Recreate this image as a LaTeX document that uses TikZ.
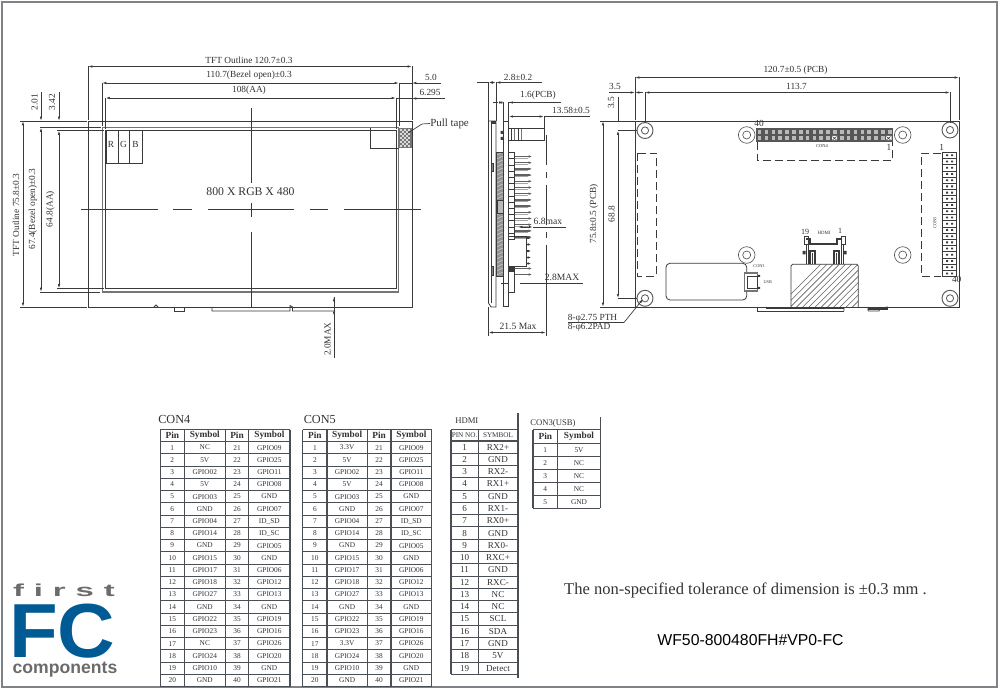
\documentclass[tikz,border=0pt]{standalone}
\usepackage{fontspec}
\setmainfont{Liberation Serif}
\newfontfamily\logofont{Liberation Sans}
\newfontfamily\logowide[LetterSpace=30]{Liberation Sans}
\usetikzlibrary{arrows.meta}
\definecolor{ink}{HTML}{3A3A3A}
\definecolor{txt}{HTML}{333333}
\definecolor{frameC}{HTML}{7F8388}
\definecolor{tabC}{HTML}{4A4E55}
\definecolor{fcblue}{HTML}{005B94}
\definecolor{fcgrey}{HTML}{6B6B6B}
\newcounter{lblc}
\newcommand{\lbl}[4][]{\stepcounter{lblc}\node[lab,#1] (lab\thelblc) at (#2,#3) {#4};}
\newcommand{\dimline}[4]{\draw[dim] (#1,#2) -- (#3,#4);}
\tikzset{
 lab/.style={inner sep=0pt,text=txt,font=\fontsize{7}{8}\selectfont},
 dim/.style={draw=ink,line width=0.55pt,{Latex[length=3.2pt,width=1.8pt]}-{Latex[length=3.2pt,width=1.8pt]}},
 ext/.style={draw=ink,line width=0.5pt},
 part/.style={draw=ink,line width=0.6pt},
 heavy/.style={draw=ink!70,line width=1.4pt},
 dashbox/.style={draw=ink,line width=0.6pt,dash pattern=on 6pt off 3pt},
 hole/.style={draw=ink!85,line width=0.5pt},
 tline/.style={draw=tabC,line width=0.8pt},
 thead/.style={inner sep=0pt,text=txt,font=\fontsize{7}{8}\bfseries\selectfont},
 tcell/.style={inner sep=0pt,text=txt,font=\fontsize{5.5}{6}\selectfont},
 hcell/.style={inner sep=0pt,text=txt,font=\fontsize{6.8}{7}\selectfont},
}
\newcommand{\pintable}[6]{%
 \foreach \r in {0,...,20}{\pgfmathsetmacro\yy{441.7+\r*12.25}\draw[tline] (#1,\yy) -- (#5,\yy);}
 \foreach \xx in {#1,#2,#3,#4,#5}{\draw[tline] (\xx,429.7) -- (\xx,686.7);}
 \draw[tline] (#1,429.7) -- (#5,429.7);
 \pgfmathsetmacro\ca{(#1+#2)/2}\pgfmathsetmacro\cb{(#2+#3)/2}\pgfmathsetmacro\cc{(#3+#4)/2}\pgfmathsetmacro\cd{(#4+#5)/2}
 \node[thead] at (\ca,435.7) {Pin};\node[thead] at (\cb,435.7) {Symbol};\node[thead] at (\cc,435.7) {Pin};\node[thead] at (\cd,435.7) {Symbol};
 \foreach \n/\s/\m/\t [count=\i from 0] in {#6}{
  \pgfmathsetmacro\yy{447.6+\i*12.25}
  \node[tcell] at (\ca,\yy) {\n};\node[tcell] at (\cb,\yy) {\s};\node[tcell] at (\cc,\yy) {\m};\node[tcell] at (\cd,\yy) {\t};
 }
}
\begin{document}
\begin{tikzpicture}[x=0.75pt,y=-0.75pt]
\useasboundingbox (0,0) rectangle (1000,695);
\fill[white] (0,0) rectangle (1000,695);
\draw[frameC,line width=1pt] (2,2) rectangle (997,687);

% ---------- front view ----------
\draw[part] (88,121) rectangle (412,307);
\draw[heavy] (102.5,127.5) rectangle (398.5,292);
\draw[part] (105,130) rectangle (396,288.5);
\draw[part] (106,130) rectangle (118,163);
\draw[part] (118,130) rectangle (129.5,163);
\draw[part] (129.5,130) rectangle (142.5,163);
\lbl{111}{144}{R}\lbl{123.5}{144}{G}\lbl{135.5}{144}{B}
\draw[part] (370,128) -- (370,148.5) -- (399,148.5);
\fill[ink!70] (399,128) rectangle (411.5,148.5);
\foreach \yy in {130,134,...,146}{\foreach \xx in {401,405,409}{\fill[white] (\xx,\yy) circle (1.1);}}
\foreach \yy in {132,136,...,144}{\foreach \xx in {403,407}{\fill[white] (\xx,\yy) circle (1.1);}}
\coordinate (tapeEnd) at (408,133);
\lbl[anchor=west]{430}{123.5}{\fontsize{8.2}{9}\selectfont Pull tape}
\draw[ext] (tapeEnd) -- (422,124) -- (lab\thelblc.west);
\lbl{250.5}{192}{\fontsize{8.8}{9}\selectfont 800 X RGB X 480}
\draw[part] (81,209.5) -- (158,209.5) (173,209.5) -- (192,209.5) (208,209.5) -- (294,209.5) (310,209.5) -- (328,209.5) (344,209.5) -- (421,209.5);
\draw[part] (251,108) -- (251,183) (251,203) -- (251,217) (251,232) -- (251,308);
\draw[part] (154,307) -- (156,305) -- (158,307);
\draw[part] (174,307) -- (174,311) -- (184,311) -- (184,307);
\draw[part] (212,307) -- (212,311) -- (290,311) -- (290,305.5) -- (292.5,307) -- (292.5,311) -- (335,311);
\lbl{249}{60}{TFT Outline 120.7±0.3}
\dimline{88}{66.5}{412}{66.5}
\draw[ext] (88,66.5) -- (88,120) (412,66.5) -- (412,120);
\lbl{249}{75.5}{110.7(Bezel open)±0.3}
\dimline{102}{83}{399}{83}
\draw[ext] (102,83) -- (102,126) (399,83) -- (399,126);
\lbl{249}{90.5}{108(AA)}
\dimline{105.5}{98}{396}{98}
\draw[ext] (105.5,98) -- (105.5,129) (396,98) -- (396,129);
\lbl{431}{77}{5.0}
\draw[ext,-{Latex[length=3.2pt,width=1.8pt]}] (441,83) -- (412,83);
\draw[ext] (399,83) -- (412,83);
\lbl{430}{92}{6.295}
\draw[ext,-{Latex[length=3.2pt,width=1.8pt]}] (445,98.5) -- (412,98.5);
\draw[ext] (396,98.5) -- (412,98.5);
\lbl[rotate=90]{34.5}{102}{2.01}
\lbl[rotate=90]{52}{102}{3.42}
\draw[ext,-{Latex[length=3.2pt,width=1.8pt]}] (41,92) -- (41,121);
\draw[ext,-{Latex[length=3.2pt,width=1.8pt]}] (59,92) -- (59,121);
\dimline{23}{121}{23}{307}
\draw[ext] (20,121) -- (87,121) (20,307) -- (87,307);
\dimline{41}{127.5}{41}{292}
\draw[ext] (40,127.5) -- (101,127.5) (40,292) -- (100,292);
\dimline{59}{130.5}{59}{288.5}
\draw[ext] (57,130.5) -- (104,130.5) (57,288.5) -- (104,288.5);
\lbl[rotate=90]{16}{215}{TFT Outline 75.8±0.3}
\lbl[rotate=90]{33}{209}{67.4(Bezel open)±0.3}
\lbl[rotate=90]{50.5}{209}{64.8(AA)}
\dimline{334}{297}{334}{316}
\draw[ext] (334,297) -- (334,358) (292,307) -- (338,307);
\lbl[rotate=90]{327.5}{339}{2.0MAX}

% ---------- side view ----------
\draw[part] (488.5,121) -- (488.5,303) -- (491,307) -- (496,307) -- (496,121) -- cycle;
\draw[part] (491,121) -- (491,303);
\fill[ink] (491,121) rectangle (496,124);
\draw[part] (503.5,121) rectangle (508.7,306.7);
\fill[ink!55] (496,152.7) rectangle (503.3,276.7);
\foreach \yy in {155,159,...,275}{\draw[white!75!ink,line width=0.4pt] (496.5,\yy) -- (503,\yy-3);}
\draw[part] (496,152.7) rectangle (503.3,276.7);
\draw[part,fill=white!65!ink] (497,200) rectangle (503,213);
\draw[part,fill=ink!60] (491,163) rectangle (493.5,171);
\draw[part,fill=ink!60] (491,266) rectangle (493.5,275);
\fill[ink] (500.5,131) rectangle (503.3,134) (500.5,137) rectangle (503.3,140);
\draw[part] (508.7,128.7) rectangle (544,140.7);
\draw[heavy] (514.5,129) -- (514.5,140.5) (521.5,129) -- (521.5,140.5);
\draw[part] (511.5,129) -- (511.5,140.5) (518.5,129) -- (518.5,140.5);
\foreach \i in {0,...,13}{
 \pgfmathsetmacro\yy{152.7+\i*6.2}
 \draw[part,line width=0.8pt] (508.7,\yy) rectangle (514.5,\yy+6.2);
 \draw[ink!80,line width=1pt,-{Latex[length=2.5pt,width=2pt]}] (514.5,\yy+3.8) -- (532,\yy+3.8);
 \draw[ink!45,line width=0.4pt] (514.5,\yy+5.4) -- (528,\yy+5.4);
}
\draw[part] (508.7,236) rectangle (526,266);
\foreach \yy in {238,244.5,251,257.5,263.5}{\draw[ink,line width=0.9pt,-{Latex[length=2.5pt,width=2pt]}] (526,\yy) -- (531,\yy);}
\draw[part] (508.7,266) rectangle (514.5,292);
\fill[ink] (508.7,266) rectangle (514.5,272);
\draw[ink!80,line width=1pt,-{Latex[length=2.5pt,width=2pt]}] (514.5,268.5) -- (532,268.5);
\draw[ink!80,line width=1pt,-{Latex[length=2.5pt,width=2pt]}] (514.5,274.5) -- (532,274.5);
\draw[part] (546,135) -- (546,165) (546,172) -- (546,178) (546,185) -- (546,225) (546,232) -- (546,238) (546,245) -- (546,336);
\lbl{518}{77}{2.8±0.2}
\dimline{488.5}{82.5}{496}{82.5}\draw[ext] (477,82.5) -- (488.5,82.5) (503,82.5) -- (542,82.5);
\draw[ext,{Latex[length=3.2pt,width=1.8pt]}-] (496,82.5) -- (503,82.5);
\draw[ext] (488.5,82.5) -- (488.5,121) (496,82.5) -- (496,121);
\lbl{538}{95}{1.6(PCB)}
\dimline{498}{102.5}{503.5}{102.5}\draw[ext] (493,102.5) -- (498,102.5) (508.7,102.5) -- (561,102.5);
\draw[ext,{Latex[length=3.2pt,width=1.8pt]}-] (508.7,102.5) -- (514,102.5);
\draw[ext] (503.5,102.5) -- (503.5,121) (508.7,102.5) -- (508.7,121);
\lbl{571}{110}{13.58±0.5}
\dimline{508.7}{116.5}{544}{116.5}\draw[ext] (544,116.5) -- (590,116.5) (544,116.5) -- (544,128);
\lbl{548}{221}{\fontsize{7.2}{8}\selectfont 6.8max}
\dimline{518}{227}{533}{227}\draw[ext] (533,227) -- (566,227);
\lbl{562}{277}{\fontsize{7.2}{8}\selectfont 2.8MAX}
\draw[ext] (520,283) -- (583,283);
\draw[ext] (501,283) -- (508,283);
\lbl{518}{326}{\fontsize{7.2}{8}\selectfont 21.5 Max}
\dimline{488.5}{332.5}{546}{332.5}
\draw[ext] (488.5,307) -- (488.5,336);

% ---------- rear view ----------
\draw[part] (635,121) rectangle (959,307);
\foreach \xx/\yy in {645/130.5,950/130,645/298.3,950/298.3}{
 \draw[hole,line width=0.7pt] (\xx,\yy) circle (8);\draw[hole,line width=0.6pt] (\xx,\yy) circle (3.6);}
\foreach \xx/\yy in {746.7/135,902.7/135,746.7/255,902.7/255}{
 \draw[hole] (\xx,\yy) circle (8.3);\draw[hole] (\xx,\yy) circle (4);}
\fill[ink!85] (755.7,128.3) rectangle (893.3,141.7);
\foreach \i in {0,...,19}{
 \pgfmathsetmacro\xx{757.8+\i*6.85}
 \foreach \yy in {130.5,136.5}{\fill[white!65!ink] (\xx,\yy) rectangle (\xx+3.6,\yy+3.2);}
}
\fill[white] (832,136) rectangle (837,140.2) (886,136) rectangle (891,140.2);
\draw[ink,line width=0.4pt] (832.5,136.5) -- (836.5,140) (832.5,140) -- (836.5,136.5) (886.5,136.5) -- (890.5,140) (886.5,140) -- (890.5,136.5);
\draw[dashbox] (757,142) -- (757,160.3) -- (892.7,160.3) -- (892.7,142);
\lbl{759}{123.3}{\fontsize{7}{8}\selectfont 40}
\lbl{889}{147.7}{\fontsize{7}{8}\selectfont 1}
\lbl{822}{146}{\fontsize{3.4}{4}\selectfont CON4}
\foreach \i in {0,...,19}{
 \pgfmathsetmacro\yy{152.3+\i*6.22}
 \draw[ink,line width=0.55pt,fill=white] (942.7,\yy) rectangle (956,\yy+6.22);
 \fill[ink] (946,\yy+2.1) rectangle (948,\yy+3.9) (951,\yy+2.1) rectangle (953,\yy+3.9);
}
\draw[dashbox] (941,153) -- (921,153) -- (921,276) -- (941,276);
\draw[dashbox] (637.3,153) rectangle (656.7,276);
\lbl{941.7}{147.7}{\fontsize{7}{8}\selectfont 1}
\lbl{956.7}{279}{\fontsize{7}{8}\selectfont 40}
\lbl[rotate=90]{935}{223}{\fontsize{3.4}{4}\selectfont CON5}
\draw[part,rounded corners=3pt] (666,263.3) rectangle (746.7,300);
\draw[heavy,line width=1.1pt,fill=white] (744.5,273) rectangle (757.5,291);
\draw[part] (747,276) rectangle (757,288);
\fill[ink] (757.5,275) rectangle (760,277) (757.5,287) rectangle (760,289);
\lbl{759}{266}{\fontsize{3.2}{4}\selectfont CON3}
\lbl{767.7}{281.7}{\fontsize{3.2}{4}\selectfont USB}
% HDMI connector with spaced hatching
\begin{scope}
\clip (791,307) -- (791,266) -- (792.5,264.3) -- (857,264.3) -- (858.3,266) -- (858.3,307) -- cycle;
\foreach \k in {0,...,19}{\draw[ink!80,line width=0.45pt] (775+\k*6.2,310) -- (775+\k*6.2+48,262);}
\end{scope}
\draw[part] (791,307) -- (791,266) -- (792.5,264.3) -- (857,264.3) -- (858.3,266) -- (858.3,307);
\lbl{805}{231.7}{\fontsize{6}{7}\selectfont 19}
\lbl{824}{232.7}{\fontsize{3.6}{4}\selectfont HDMI}
\lbl{840}{231}{\fontsize{6}{7}\selectfont 1}
\draw[ink,line width=1.3pt] (806,239) -- (810,239) -- (810,244) -- (837,244) -- (837,239) -- (841,239);
\draw[part] (804,236) rectangle (808,244);
\draw[part] (841,236) rectangle (845,244);
\draw[part] (806,244) -- (806,264) (808,244) -- (808,264);
\draw[part] (841,244) -- (841,264) (843,244) -- (843,264);
\draw[ink,line width=1.1pt] (810,264) -- (810,251) -- (815,251) -- (815,264);
\draw[ink,line width=1.1pt] (834,264) -- (834,251) -- (839,251) -- (839,264);
\draw[part] (812.5,253) -- (812.5,264) (836.5,253) -- (836.5,264);
\fill[ink] (802.5,251) rectangle (805.5,254.5) (843.5,251) rectangle (846.5,254.5);
\draw[part] (757.7,307) -- (757.7,311) -- (844,311);
\draw[ink,line width=1.2pt] (766,308) -- (844,308);
\draw[part] (844,311) -- (844,308) (868,311) -- (868,307) (868,311) -- (879,311) -- (880,308) -- (888,307);
\draw[ink,line width=1.1pt] (868,309) -- (888,309);
\lbl{795.5}{70}{120.7±0.5 (PCB)}
\dimline{635}{77.5}{959}{77.5}
\draw[ext] (635,77.5) -- (635,120) (959,77.5) -- (959,120);
\lbl{615}{86.5}{3.5}
\draw[ext,-{Latex[length=3.2pt,width=1.8pt]}] (609,92.5) -- (635,92.5);
\draw[ext,{Latex[length=3.2pt,width=1.8pt]}-] (635,92.5) -- (643,92.5);
\lbl{796.5}{86.5}{113.7}
\dimline{645}{92.5}{950}{92.5}
\draw[ext] (645,92.5) -- (645,123) (950,92.5) -- (950,123);
\lbl[rotate=90]{611}{103}{3.5}
\draw[ext] (618,97) -- (618,121);
\dimline{603}{121}{603}{307}
\draw[ext] (600,121) -- (635,121) (600,307) -- (635,307);
\lbl[rotate=90]{594}{214}{75.8±0.5 (PCB)}
\dimline{618}{130.5}{618}{298.3}
\draw[ext] (618,130.5) -- (637,130.5) (618,298.3) -- (637,298.3);
\lbl[rotate=90]{611.5}{214}{68.8}
\lbl[anchor=west]{567.5}{318}{8-φ2.75 PTH}
\lbl[anchor=west]{567.5}{327}{8-φ6.2PAD}
\coordinate (holeTip) at (643,299);
\draw[ext] (567.5,322.5) -- (624,322.5);
\draw[ext,-{Latex[length=3.2pt,width=1.8pt]}] (624,322.5) -- (holeTip);

% ---------- tables ----------
\lbl[anchor=west]{158}{419.5}{\fontsize{9.2}{10}\selectfont CON4}
\lbl[anchor=west]{303.5}{419.5}{\fontsize{9.2}{10}\selectfont CON5}
\pintable{160.3}{184.3}{225.3}{248.7}{290}{1/NC/21/GPIO09,2/5V/22/GPIO25,3/GPIO02/23/GPIO11,4/5V/24/GPIO08,5/GPIO03/25/GND,6/GND/26/GPIO07,7/GPIO04/27/ID\_SD,8/GPIO14/28/ID\_SC,9/GND/29/GPIO05,10/GPIO15/30/GND,11/GPIO17/31/GPIO06,12/GPIO18/32/GPIO12,13/GPIO27/33/GPIO13,14/GND/34/GND,15/GPIO22/35/GPIO19,16/GPIO23/36/GPIO16,17/NC/37/GPIO26,18/GPIO24/38/GPIO20,19/GPIO10/39/GND,20/GND/40/GPIO21}
\pintable{302.7}{327}{367.3}{391}{431.7}{1/3.3V/21/GPIO09,2/5V/22/GPIO25,3/GPIO02/23/GPIO11,4/5V/24/GPIO08,5/GPIO03/25/GND,6/GND/26/GPIO07,7/GPIO04/27/ID\_SD,8/GPIO14/28/ID\_SC,9/GND/29/GPIO05,10/GPIO15/30/GND,11/GPIO17/31/GPIO06,12/GPIO18/32/GPIO12,13/GPIO27/33/GPIO13,14/GND/34/GND,15/GPIO22/35/GPIO19,16/GPIO23/36/GPIO16,17/3.3V/37/GPIO26,18/GPIO24/38/GPIO20,19/GPIO10/39/GND,20/GND/40/GPIO21}
\lbl[anchor=west]{455}{420.5}{\fontsize{6.5}{7}\selectfont HDMI}
\draw[tline] (518,413) -- (518,678);
\draw[tline] (451,429.7) -- (518,429.7);
\foreach \r in {0,...,19}{\pgfmathsetmacro\yy{441+\r*12.28}\draw[tline] (451,\yy) -- (518,\yy);}
\draw[tline] (451,429.7) -- (451,674.3) (478.3,429.7) -- (478.3,674.3);
\node[inner sep=0pt,text=txt,font=\fontsize{5.4}{6}\selectfont] (hPin) at (464.6,435.5) {PIN NO.};
\node[inner sep=0pt,text=txt,font=\fontsize{5.4}{6}\selectfont] (hSym) at (498,435.5) {SYMBOL};
\foreach \n/\s [count=\i from 0] in {1/RX2+,2/GND,3/RX2-,4/RX1+,5/GND,6/RX1-,7/RX0+,8/GND,9/RX0-,10/RXC+,11/GND,12/RXC-,13/NC,14/NC,15/SCL,16/SDA,17/GND,18/5V,19/Detect}{
 \pgfmathsetmacro\yy{447.1+\i*12.28}
 \node[hcell] at (464.6,\yy) {\n};\node[hcell] at (498,\yy) {\s};
}
\lbl[anchor=west]{530}{423}{\fontsize{6.5}{7}\selectfont CON3(USB)}
\draw[tline] (600.3,417) -- (600.3,508.3);
\draw[tline] (533,429.7) -- (600.3,429.7);
\foreach \r in {0,...,5}{\pgfmathsetmacro\yy{443.3+\r*13}\draw[tline] (533,\yy) -- (600.3,\yy);}
\draw[tline] (533,429.7) -- (533,508.3) (557.7,429.7) -- (557.7,508.3);
\node[thead] (uPin) at (545.3,436.5) {Pin};
\node[thead] (uSym) at (579,436.5) {Symbol};
\foreach \n/\s [count=\i from 0] in {1/5V,2/NC,3/NC,4/NC,5/GND}{
 \pgfmathsetmacro\yy{449.8+\i*13}
 \node[tcell] at (545.3,\yy) {\n};\node[tcell] at (579,\yy) {\s};
}
\lbl{745.5}{590}{\fontsize{12.4}{13}\selectfont The non-specified tolerance of dimension is ±0.3 mm .}
\node[inner sep=0pt,text=black,font=\logofont\fontsize{11.85}{12}\selectfont] (partno) at (750.5,640) {WF50-800480FH\#VP0-FC};

% ---------- logo ----------
\node[inner sep=0pt,anchor=base,text=fcgrey,xscale=1.9,font=\logowide\bfseries\fontsize{13}{14}\selectfont] (firstw) at (64,596) {first};
\node[inner sep=0pt,anchor=base west,text=fcblue,xscale=1.04,font=\logofont\bfseries\fontsize{57.5}{58}\selectfont] (fc) at (9,657) {FC};
\node[inner sep=0pt,anchor=base,text=fcgrey,font=\logofont\bfseries\fontsize{13.2}{14}\selectfont] (comp) at (65,673) {components};
\end{tikzpicture}
\end{document}
